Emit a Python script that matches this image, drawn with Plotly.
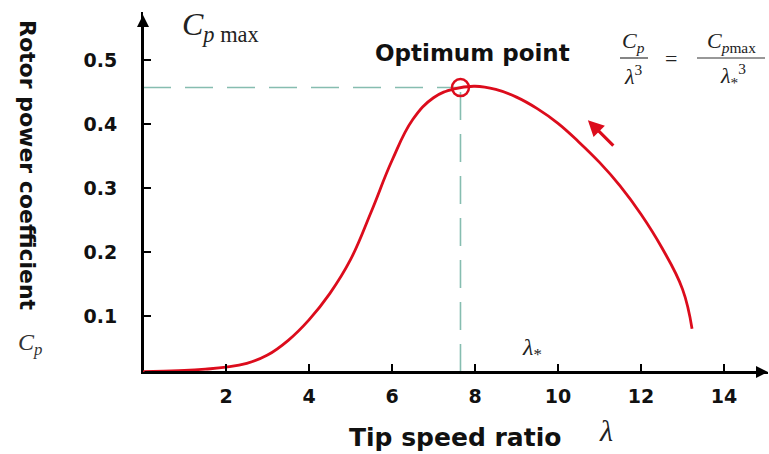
import plotly.graph_objects as go

# ---- data ----
tsr = [0.0, 0.5, 1.0, 1.5, 2.0, 2.5, 3.0, 3.5, 4.0, 4.5, 5.0, 5.5, 6.0, 6.5, 7.0, 7.5,
       8.0, 8.5, 9.0, 9.5, 10.0, 10.5, 11.0, 11.5, 12.0, 12.5, 13.0, 13.23]
cp = [0.013, 0.014, 0.015, 0.017, 0.020, 0.026, 0.039, 0.062, 0.094, 0.135, 0.188,
      0.263, 0.343, 0.407, 0.441, 0.455, 0.459, 0.454, 0.442, 0.424, 0.401, 0.372,
      0.340, 0.303, 0.259, 0.207, 0.142, 0.08]
opt_tsr = 7.65
cp_max = 0.457
x_ticks = [2, 4, 6, 8, 10, 12, 14]
y_ticks = [0.1, 0.2, 0.3, 0.4, 0.5]
arrow_tail = (11.37, 0.364)
arrow_head = (10.72, 0.406)

W, H = 769, 454
L, R, T, B = 143, 1, 12, 82
PW, PH = W - L - R, H - T - B


def px(xp):
    return (xp - L) / PW


def py(yp):
    return (H - B - yp) / PH


RED = "#dc0c1c"
DASH = "#86bdb0"
SERIF = "Liberation Serif, Times New Roman, serif"
BOLD = "DejaVu Sans, Arial, sans-serif"

fig = go.Figure()
fig.add_trace(go.Scatter(x=tsr, y=cp, mode="lines", line=dict(color=RED, width=2.8, shape="spline", smoothing=1.2),
                         hoverinfo="skip"))
fig.add_trace(go.Scatter(x=[opt_tsr], y=[cp_max], mode="markers",
                         marker=dict(symbol="circle-open", size=17, color=RED, line=dict(color=RED, width=2.5)),
                         hoverinfo="skip"))

# dashed guides
fig.add_shape(type="line", x0=0, x1=opt_tsr, y0=cp_max, y1=cp_max, xref="x", yref="y",
              line=dict(color=DASH, width=1.6, dash="28px,14px"), layer="below")
fig.add_shape(type="line", x0=opt_tsr, x1=opt_tsr, y0=0.0125, y1=cp_max, xref="x", yref="y",
              line=dict(color=DASH, width=1.6, dash="28px,14px"), layer="below")

ann = []
# axis arrows
ann.append(dict(x=0, y=py(15), xref="paper", yref="paper", ax=0, ay=357, axref="pixel", ayref="pixel",
                showarrow=True, arrowhead=2, arrowsize=1.2, arrowwidth=2, arrowcolor="black", text=""))
ann.append(dict(x=1.0, y=0, xref="paper", yref="paper", ax=-PW, ay=0, axref="pixel", ayref="pixel",
                showarrow=True, arrowhead=2, arrowsize=1.2, arrowwidth=2, arrowcolor="black", text=""))
# red arrow
ann.append(dict(x=arrow_head[0], y=arrow_head[1], ax=arrow_tail[0], ay=arrow_tail[1], xref="x", yref="y",
                axref="x", ayref="y", showarrow=True, arrowhead=2, arrowsize=1.0, arrowwidth=3.2,
                arrowcolor=RED, text=""))

ann.append(dict(x=px(472), y=py(53), xref="paper", yref="paper", text="<b>Optimum point</b>", showarrow=False,
                font=dict(family=BOLD, size=23, color="#111"), xanchor="center", yanchor="middle"))
ann.append(dict(x=px(455), y=py(437), xref="paper", yref="paper", text="<b>Tip speed ratio</b>", showarrow=False,
                font=dict(family=BOLD, size=25, color="#111"), xanchor="center", yanchor="middle"))
ann.append(dict(x=px(597), y=py(430), xref="paper", yref="paper", text="<i>λ</i>", showarrow=False,
                font=dict(family=SERIF, size=30, color="#222"), xanchor="left", yanchor="middle"))
ann.append(dict(x=px(28), y=py(165), xref="paper", yref="paper", text="<b>Rotor power coefficient</b>",
                showarrow=False, textangle=90, font=dict(family=BOLD, size=22, color="#111"),
                xanchor="center", yanchor="middle"))
ann.append(dict(x=px(16), y=py(344), xref="paper", yref="paper", text="<i>C<sub>p</sub></i>", showarrow=False,
                font=dict(family=SERIF, size=24, color="#333"), xanchor="left", yanchor="middle"))
ann.append(dict(x=px(180), y=py(27), xref="paper", yref="paper",
                text="<i>C<sub>p</sub></i><sub> max</sub>", showarrow=False,
                font=dict(family=SERIF, size=32, color="#222"), xanchor="left", yanchor="middle"))
ann.append(dict(x=px(520), y=py(349), xref="paper", yref="paper", text="<i>λ</i><sub>*</sub>", showarrow=False,
                font=dict(family=SERIF, size=24, color="#222"), xanchor="left", yanchor="middle"))

# formula  Cp/λ^3 = Cpmax/λ*^3
ann.append(dict(x=px(633), y=py(42), xref="paper", yref="paper", text="<i>C<sub>p</sub></i>", showarrow=False,
                font=dict(family=SERIF, size=22, color="#222"), xanchor="center", yanchor="middle"))
ann.append(dict(x=px(633), y=py(75), xref="paper", yref="paper", text="<i>λ</i><sup>3</sup>", showarrow=False,
                font=dict(family=SERIF, size=22, color="#222"), xanchor="center", yanchor="middle"))
ann.append(dict(x=px(671), y=py(58), xref="paper", yref="paper", text="=", showarrow=False,
                font=dict(family=SERIF, size=22, color="#222"), xanchor="center", yanchor="middle"))
ann.append(dict(x=px(731), y=py(42), xref="paper", yref="paper", text="<i>C<sub>p</sub></i><sub>max</sub>",
                showarrow=False, font=dict(family=SERIF, size=22, color="#222"), xanchor="center", yanchor="middle"))
ann.append(dict(x=px(733), y=py(75), xref="paper", yref="paper", text="<i>λ</i><sub>*</sub><sup>3</sup>",
                showarrow=False, font=dict(family=SERIF, size=22, color="#222"), xanchor="center", yanchor="middle"))
for x0, x1 in [(620, 648), (697, 765)]:
    fig.add_shape(type="line", xref="paper", yref="paper", x0=px(x0), x1=px(x1), y0=py(58), y1=py(58),
                  line=dict(color="#333", width=1.2))

fig.update_layout(
    width=W, height=H, margin=dict(l=L, r=R, t=T, b=B),
    paper_bgcolor="white", plot_bgcolor="white", showlegend=False,
    annotations=ann,
    xaxis=dict(range=[0, PW / 41.5], tickvals=x_ticks, ticktext=[f"<b>{v}</b>" for v in x_ticks],
               ticks="inside", ticklen=8, tickwidth=1.5,
               tickcolor="black", showgrid=False, zeroline=False, showline=True, linecolor="black", linewidth=2,
               tickfont=dict(family=BOLD, size=19, color="#111"), ticklabelstandoff=6),
    yaxis=dict(range=[0.0125, 0.0125 + PH / 640], tickvals=y_ticks, ticktext=[f"<b>{v}</b>" for v in y_ticks],
               ticks="inside", ticklen=8, tickwidth=1.5, tickcolor="black", showgrid=False, zeroline=False,
               showline=True, linecolor="black", linewidth=2,
               tickfont=dict(family=BOLD, size=19, color="#111"), ticklabelstandoff=20),
)

fig.write_html("out.html")
